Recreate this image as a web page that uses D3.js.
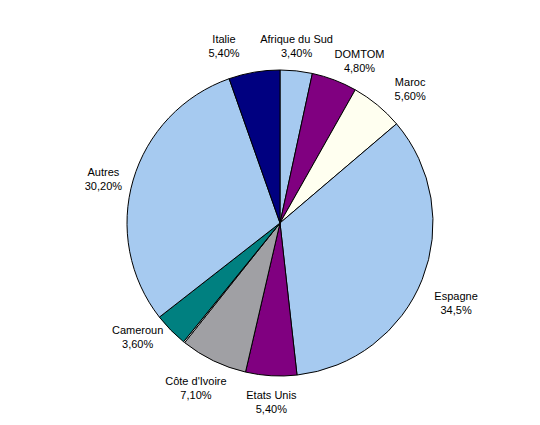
<!DOCTYPE html>
<html><head><meta charset="utf-8">
<script src="https://cdn.jsdelivr.net/npm/d3@7"></script>
<style>body{margin:0;background:#fff}svg{display:block}</style>
</head><body><svg width="540" height="425"></svg>
<script>
const categories = ["Afrique du Sud","DOMTOM","Maroc","Espagne","Etats Unis","Côte d'Ivoire","","Cameroun","Autres","Italie"];
const values = [3.4,4.8,5.6,34.5,5.4,7.1,0.15,3.6,30.2,5.4];
const valueLabels = ["3,40%","4,80%","5,60%","34,5%","5,40%","7,10%","","3,60%","30,20%","5,40%"];
const colors = ["#A6CAF0","#800080","#FFFFF0","#A6CAF0","#800080","#A0A0A4","#FFFFFF","#008080","#A6CAF0","#000080"];
// label nudges (layout only)
const nudges = {"Afrique du Sud":[-3,6],"DOMTOM":[14,10],"Maroc":[13,8],"Espagne":[5,12],"Etats Unis":[2,-5],"Côte d'Ivoire":[-4,-1],"Cameroun":[-11,-15],"Autres":[0,8],"Italie":[-25,4]};

const svg = d3.select("svg");
const cx = 280, cy = 223, r = 153;
const g = svg.append("g").attr("transform",`translate(${cx},${cy})`);
const data = categories.map((c,i)=>({c, v: values[i], lab: valueLabels[i], col: colors[i]}));
const pie = d3.pie().value(d=>d.v).sort(null);
const arcs = pie(data);
const arc = d3.arc().innerRadius(0).outerRadius(r);
g.selectAll("path").data(arcs).join("path")
  .attr("d", arc).attr("fill", d=>d.data.col)
  .attr("stroke","#000").attr("stroke-width",1).attr("stroke-linejoin","round");
const labelArc = d3.arc().innerRadius(184).outerRadius(184);
const lg = g.selectAll("g.lab").data(arcs.filter(d=>d.data.c!=="")).join("g").attr("class","lab")
  .attr("transform", d=>{ const [x,y]=labelArc.centroid(d); const n=nudges[d.data.c]||[0,0]; return `translate(${x+n[0]},${y+n[1]})`; });
lg.append("text").attr("text-anchor","middle").attr("y",-3)
  .style("font-family","Liberation Sans, Arial, sans-serif").style("font-size","11px").attr("fill","#000")
  .text(d=>d.data.c);
lg.append("text").attr("text-anchor","middle").attr("y",11)
  .style("font-family","Liberation Sans, Arial, sans-serif").style("font-size","11px").attr("fill","#000")
  .text(d=>d.data.lab);
</script></body></html>
